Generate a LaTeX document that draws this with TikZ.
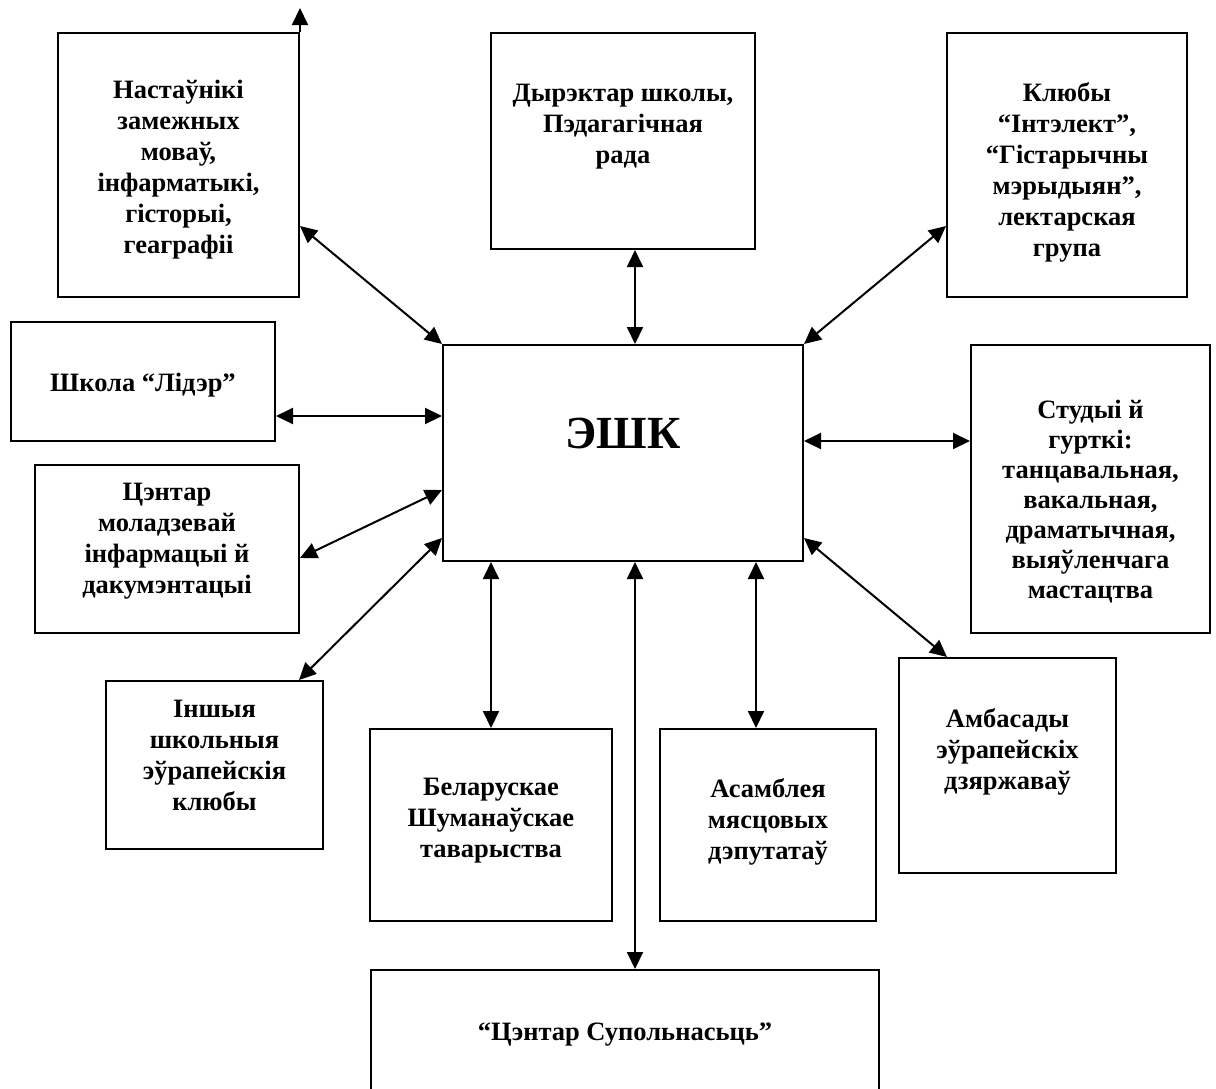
\documentclass[tikz,border=0pt]{standalone}
\usepackage{fontspec}
\setmainfont{Liberation Serif}
\usetikzlibrary{arrows.meta}
\begin{document}
\begin{tikzpicture}[x=1pt,y=-1pt,
  box/.style={draw=black, line width=2pt, inner sep=0pt, fill=white},
  lbl/.style={anchor=north, inner sep=0pt, align=center,
    font=\fontsize{26.5}{31}\selectfont\bfseries},
  lbltight/.style={lbl, font=\fontsize{26.5}{30}\selectfont\bfseries},
  big/.style={anchor=north, inner sep=0pt, font=\fontsize{46}{52}\selectfont\bfseries},
  arr/.style={line width=2pt, {Triangle[length=17pt,width=16pt]}-{Triangle[length=17pt,width=16pt]}},
  one/.style={line width=2pt, -{Triangle[length=17pt,width=16pt]}}
]
\path[use as bounding box, fill=white] (0,0) rectangle (1216,1088);
\begin{scope}
\clip (0,0) rectangle (1216,1088);
% boxes
\node[box, minimum width=241pt, minimum height=264pt] (b1) at (178.5,165) {};
\node[box, minimum width=264pt, minimum height=216pt] (b2) at (623,141) {};
\node[box, minimum width=240pt, minimum height=264pt] (b3) at (1067,165) {};
\node[box, minimum width=264pt, minimum height=119pt] (b4) at (143,381) {};
\node[box, minimum width=264pt, minimum height=168pt] (b5) at (167,549) {};
\node[box, minimum width=360pt, minimum height=216pt] (e) at (623,453) {};
\node[box, minimum width=239pt, minimum height=288pt] (b6) at (1090.5,489) {};
\node[box, minimum width=217pt, minimum height=168pt] (b7) at (214.5,765) {};
\node[box, minimum width=242pt, minimum height=192pt] (b8) at (491,825) {};
\node[box, minimum width=216pt, minimum height=192pt] (b9) at (768,825) {};
\node[box, minimum width=217pt, minimum height=215pt] (b10) at (1007.5,765.5) {};
\node[box, minimum width=508pt, minimum height=140pt] (b11) at (625,1040) {};
% texts
\node[lbl] (t1) at ([yshift=-48pt]b1.north) {Настаўнікі\\замежных\\моваў,\\інфарматыкі,\\гісторыі,\\геаграфіі};
\node[lbl] (t2) at ([yshift=-52pt]b2.north) {Дырэктар школы,\\Пэдагагічная\\рада};
\node[lbl] (t3) at ([yshift=-50pt]b3.north) {Клюбы\\“Інтэлект”,\\“Гістарычны\\мэрыдыян”,\\лектарская\\група};
\node[lbl] (t4) at ([yshift=-52pt]b4.north) {Школа “Лідэр”};
\node[lbl] (t5) at ([yshift=-19pt]b5.north) {Цэнтар\\моладзевай\\інфармацыі й\\дакумэнтацыі};
\node[big] (te) at ([yshift=-74pt]e.north) {ЭШК};
\node[lbltight] (t6) at ([yshift=-56pt]b6.north) {Студыі й\\гурткі:\\танцавальная,\\вакальная,\\драматычная,\\выяўленчага\\мастацтва};
\node[lbl] (t7) at ([yshift=-20pt]b7.north) {Іншыя\\школьныя\\эўрапейскія\\клюбы};
\node[lbl] (t8) at ([yshift=-50pt]b8.north) {Беларускае\\Шуманаўскае\\таварыства};
\node[lbl] (t9) at ([yshift=-50pt]b9.north) {Асамблея\\мясцовых\\дэпутатаў};
\node[lbl] (t10) at ([yshift=-51pt]b10.north) {Амбасады\\эўрапейскіх\\дзяржаваў};
\node[lbl] (t11) at ([yshift=-54pt]b11.north) {“Цэнтар Супольнасьць”};
% connector anchor points
\coordinate (p1) at ([yshift=-61pt]b1.east);
\coordinate (p2) at ([xshift=12pt]b2.south);
\coordinate (p3) at ([yshift=-61pt]b3.west);
\coordinate (p4) at ([yshift=-35pt]b4.east);
\coordinate (p5) at ([yshift=-9pt]b5.east);
\coordinate (q5) at ([yshift=-37pt]e.west);
\coordinate (p6) at ([yshift=12pt]e.east);
\coordinate (q7) at ([yshift=-85pt]e.west);
\coordinate (p7) at ([xshift=84.5pt]b7.north);
\coordinate (p9) at ([xshift=-12pt]b9.north);
\coordinate (q10) at ([yshift=-85pt]e.east);
\coordinate (p10) at ([xshift=-60.5pt]b10.north);
\coordinate (p11) at ([xshift=10pt]b11.north);
\coordinate (top) at ([yshift=24pt]b1.north east);
% connectors
\draw[arr] (p1) -- (e.north west);
\draw[arr] (p2) -- (p2 |- e.north);
\draw[arr] (p3) -- (e.north east);
\draw[arr] (p4) -- (p4 -| e.west);
\draw[arr] (p5) -- (q5);
\draw[arr] (p6) -- (p6 -| b6.west);
\draw[arr] (q7) -- (p7);
\draw[arr] (b8.north |- e.south) -- (b8.north);
\draw[arr] (p9 |- e.south) -- (p9);
\draw[arr] (q10) -- (p10);
\draw[arr] (p11 |- e.south) -- (p11);
\draw[one] (b1.north east) -- (top);
\end{scope}
\end{tikzpicture}
\end{document}
